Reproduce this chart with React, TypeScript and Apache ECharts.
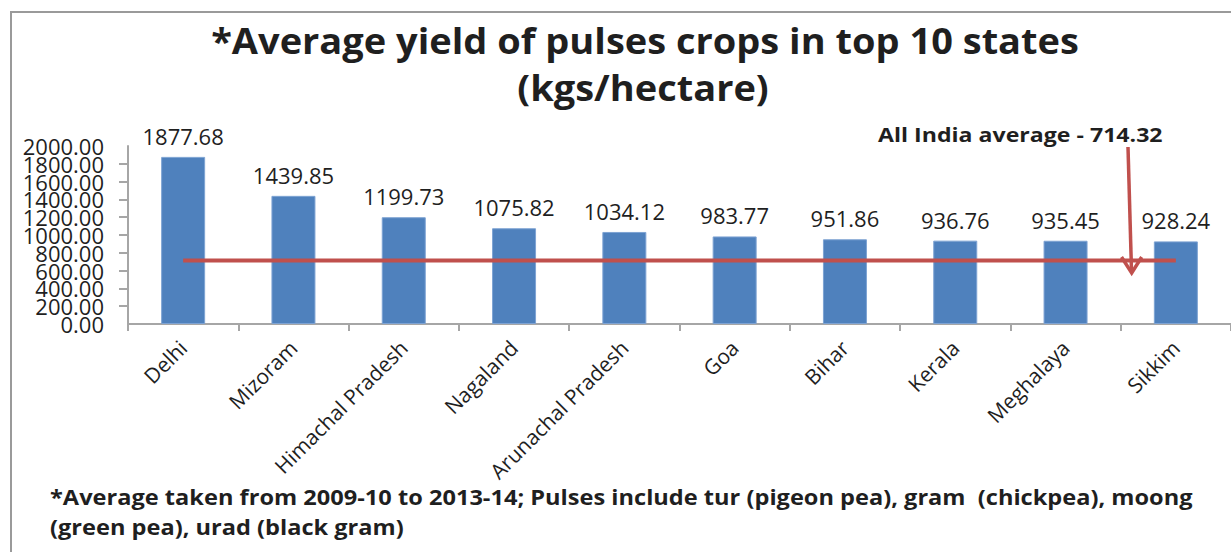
import React, { useEffect, useRef } from "react";
import * as echarts from "echarts";

const states = ["Delhi", "Mizoram", "Himachal Pradesh", "Nagaland", "Arunachal Pradesh", "Goa", "Bihar", "Kerala", "Meghalaya", "Sikkim"];
const yields = [1877.68, 1439.85, 1199.73, 1075.82, 1034.12, 983.77, 951.86, 936.76, 935.45, 928.24];
const indiaAverage = 714.32;
const averageLine = states.map(() => indiaAverage);
const yMin = 0;
const yMax = 2000;
const yStep = 200;
const titleLines = ["*Average yield of pulses crops in top 10 states", "(kgs/hectare)"];
const annotation = "All India average - 714.32";
const footnoteLines = [
  "*Average taken from 2009-10 to 2013-14; Pulses include tur (pigeon pea), gram  (chickpea), moong",
  "(green pea), urad (black gram)",
];

const FONT = "'Open Sans', Lato, sans-serif";
const TXT = "#1f1f1f";
const RED = "#C0504D";
const AXIS = "#a6a6a6";

export default function App() {
  const ref = useRef<HTMLDivElement>(null);
  useEffect(() => {
    if (!ref.current) return;
    const chart = echarts.init(ref.current, null, { renderer: "svg" });
    const yLabel = {
      margin: 24,
      fontFamily: FONT,
      fontSize: 22,
      lineHeight: 14,
      color: TXT,
      hideOverlap: false,
      formatter: (v: number) => v.toFixed(2),
    };
    chart.setOption({
      animation: false,
      backgroundColor: "#ffffff",
      grid: { left: 128, right: -19, top: 146, bottom: 228, containLabel: false },
      xAxis: {
        type: "category",
        data: states,
        boundaryGap: true,
        axisLine: { lineStyle: { color: AXIS, width: 2 } },
        axisTick: { show: true, length: 7, lineStyle: { color: AXIS, width: 2 } },
        axisLabel: { rotate: 45, margin: 20, fontFamily: FONT, fontSize: 21, color: TXT, interval: 0, hideOverlap: false },
      },
      yAxis: [
        {
          type: "value",
          min: yMin,
          max: yMax,
          interval: yStep,
          position: "left",
          splitLine: { show: false },
          axisLine: { show: true, lineStyle: { color: AXIS, width: 2 } },
          axisTick: { show: true, length: 9, lineStyle: { color: AXIS, width: 2 } },
          axisLabel: { ...yLabel, showMinLabel: false, showMaxLabel: false },
        },
        {
          type: "value",
          min: yMin,
          max: yMax,
          interval: yMax - yMin,
          position: "left",
          offset: 0,
          splitLine: { show: false },
          axisLine: { show: false },
          axisTick: { show: false },
          axisLabel: { ...yLabel, showMinLabel: true, showMaxLabel: true },
        },
      ],
      series: [
        {
          type: "bar",
          data: yields,
          yAxisIndex: 0,
          barWidth: 44,
          itemStyle: { color: "#4F81BD", borderColor: "#7ea3d3", borderWidth: 1 },
          label: {
            show: true,
            position: "top",
            distance: 10,
            fontFamily: FONT,
            fontSize: 22,
            color: TXT,
            formatter: (p: any) => Number(p.value).toFixed(2),
          },
          z: 2,
        },
        {
          type: "line",
          data: averageLine,
          yAxisIndex: 0,
          symbol: "none",
          lineStyle: { color: RED, width: 4 },
          z: 3,
        },
      ],
      graphic: [
        {
          type: "rect",
          shape: { x: 11, y: 12, width: 1260, height: 600 },
          style: { fill: "none", stroke: "#9a9a9a", lineWidth: 2 },
          silent: true,
          z: 10,
        },
        {
          type: "text",
          x: 645,
          y: 41,
          scaleX: 1.086,
          style: { text: titleLines[0], font: `bold 35px ${FONT}`, fill: TXT, align: "center", verticalAlign: "middle" },
        },
        {
          type: "text",
          x: 643,
          y: 88,
          scaleX: 1.086,
          style: { text: titleLines[1], font: `bold 35px ${FONT}`, fill: TXT, align: "center", verticalAlign: "middle" },
        },
        {
          type: "text",
          x: 878,
          y: 134,
          scaleX: 1.156,
          style: { text: annotation, font: `bold 20px ${FONT}`, fill: TXT, align: "left", verticalAlign: "middle" },
        },
        {
          type: "line",
          shape: { x1: 1128, y1: 147, x2: 1131.5, y2: 271 },
          style: { stroke: RED, lineWidth: 3.5 },
          z: 5,
        },
        {
          type: "polyline",
          shape: { points: [[1121.5, 257], [1131.7, 273], [1141.7, 257]] },
          style: { stroke: RED, lineWidth: 3.5, fill: "none" },
          z: 5,
        },
        {
          type: "text",
          x: 50,
          y: 497,
          scaleX: 1.124,
          style: { text: footnoteLines[0], font: `bold 21px ${FONT}`, fill: TXT, align: "left", verticalAlign: "middle" },
        },
        {
          type: "text",
          x: 50,
          y: 527,
          scaleX: 1.124,
          style: { text: footnoteLines[1], font: `bold 21px ${FONT}`, fill: TXT, align: "left", verticalAlign: "middle" },
        },
      ],
    });
    return () => chart.dispose();
  }, []);
  return (
    <div
      ref={ref}
      style={{ position: "absolute", left: 0, top: 0, width: 1231, height: 552, background: "#fff" }}
    />
  );
}
